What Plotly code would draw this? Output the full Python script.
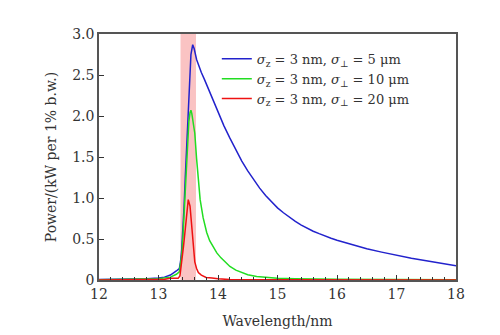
import plotly.graph_objects as go

# Data
blue_x = [12.0, 12.5, 12.8, 13.0, 13.1, 13.2, 13.25, 13.3, 13.35, 13.37, 13.39, 13.41, 13.43, 13.45,
          13.47, 13.50, 13.52, 13.545, 13.575, 13.60, 13.64, 13.68, 13.72, 13.77, 13.81, 13.87,
          13.92, 14.0, 14.1, 14.2, 14.3, 14.4, 14.5, 14.6, 14.7, 14.8, 14.9, 15.0, 15.1, 15.2,
          15.3, 15.4, 15.5, 15.6, 15.7, 15.8, 15.9, 16.0, 16.25, 16.5, 16.75, 17.0, 17.25,
          17.5, 17.75, 18.0]
blue_y = [0.005, 0.01, 0.015, 0.025, 0.035, 0.06, 0.08, 0.11, 0.14, 0.22, 0.37, 0.6, 0.9, 1.25,
          1.6, 2.1, 2.44, 2.75, 2.87, 2.82, 2.69, 2.60, 2.53, 2.45, 2.38, 2.28,
          2.19, 2.05, 1.88, 1.73, 1.58, 1.45, 1.33, 1.22, 1.12, 1.03, 0.95, 0.88, 0.82, 0.765,
          0.715, 0.67, 0.63, 0.595, 0.565, 0.535, 0.51, 0.485, 0.43, 0.38, 0.34, 0.30, 0.265,
          0.235, 0.205, 0.175]

green_x = [12.0, 12.8, 13.0, 13.2, 13.3, 13.35, 13.37, 13.39, 13.41, 13.43, 13.45, 13.47, 13.49,
           13.51, 13.53, 13.545, 13.56, 13.58, 13.61, 13.64, 13.67, 13.70, 13.75, 13.81, 13.86,
           13.92, 13.98, 14.05, 14.12, 14.2, 14.3, 14.4, 14.5, 14.65, 14.82, 15.0, 15.3, 15.6,
           16.0, 17.0, 18.0]
green_y = [0.003, 0.008, 0.015, 0.035, 0.07, 0.1, 0.18, 0.3, 0.52, 0.8, 1.12, 1.45, 1.73,
           1.93, 2.04, 2.07, 2.03, 1.95, 1.79, 1.48, 1.2, 0.98, 0.76, 0.58, 0.48,
           0.40, 0.33, 0.27, 0.215, 0.165, 0.12, 0.09, 0.065, 0.043, 0.03, 0.02, 0.014, 0.01,
           0.008, 0.005, 0.003]

red_x = [12.0, 12.8, 13.1, 13.2, 13.27, 13.33, 13.36, 13.39, 13.42, 13.45, 13.48, 13.50, 13.53,
         13.56, 13.58, 13.61, 13.64, 13.67, 13.72, 13.8, 13.9, 14.0, 14.2, 15.0, 18.0]
red_y = [0.0, 0.003, 0.008, 0.02, 0.02, 0.02, 0.05, 0.2, 0.41, 0.62, 0.88, 0.98, 0.9,
         0.65, 0.42, 0.22, 0.14, 0.09, 0.06, 0.03, 0.025, 0.015, 0.005, 0.002, 0.0]

series_names = [
    "<i>σ</i><sub>z</sub> = 3 nm, <i>σ</i><sub>⊥</sub> = 5 μm",
    "<i>σ</i><sub>z</sub> = 3 nm, <i>σ</i><sub>⊥</sub> = 10 μm",
    "<i>σ</i><sub>z</sub> = 3 nm, <i>σ</i><sub>⊥</sub> = 20 μm",
]
series_colors = ["#2222cc", "#22dd22", "#ee1111"]

band = [13.37, 13.63]

y_ticks = [0, 0.5, 1.0, 1.5, 2.0, 2.5, 3.0]
y_ticktext = ["0", "0.5", "1.0", "1.5", "2.0", "2.5", "3.0"]
x_ticks = [12, 13, 14, 15, 16, 17, 18]

FONT = "DejaVu Serif"

fig = go.Figure()
for xs, ys, name, col in zip([blue_x, green_x, red_x], [blue_y, green_y, red_y], series_names, series_colors):
    fig.add_trace(go.Scatter(x=xs, y=ys, mode="lines", name=name,
                             line=dict(color=col, width=1.5)))

fig.add_vrect(x0=band[0], x1=band[1], fillcolor="rgba(248,170,170,0.7)", line_width=0, layer="below")

fig.update_layout(
    width=500, height=335,
    margin=dict(l=99, r=44, t=34, b=55),
    paper_bgcolor="white", plot_bgcolor="white",
    font=dict(family=FONT, size=13, color="#333"),
    showlegend=True,
    legend=dict(x=0.33, y=0.96, xanchor="left", yanchor="top", bgcolor="rgba(0,0,0,0)",
                font=dict(family=FONT, size=13, color="#333"), tracegroupgap=0, itemwidth=30),
    xaxis=dict(range=[12, 18], tickvals=x_ticks, ticks="inside", ticklen=5, tickcolor="#333",
               minor=dict(dtick=0.2, ticks="inside", ticklen=3, tickcolor="#333"),
               showline=True, linecolor="#555", linewidth=1.5, mirror=True, showgrid=False,
               zeroline=False, automargin=False,
               title=dict(text="Wavelength/nm", font=dict(family=FONT, size=14), standoff=16),
               tickfont=dict(family=FONT, size=14)),
    yaxis=dict(range=[0, 3.0], tickvals=y_ticks, ticktext=y_ticktext, ticks="inside", ticklen=5,
               tickcolor="#333",
               showline=True, linecolor="#555", linewidth=1.5, mirror=True, showgrid=False,
               zeroline=False, automargin=False,
               title=dict(text="Power/(kW per 1% b.w.)", font=dict(family=FONT, size=14), standoff=12),
               tickfont=dict(family=FONT, size=14)),
)

fig.write_html("out.html")
